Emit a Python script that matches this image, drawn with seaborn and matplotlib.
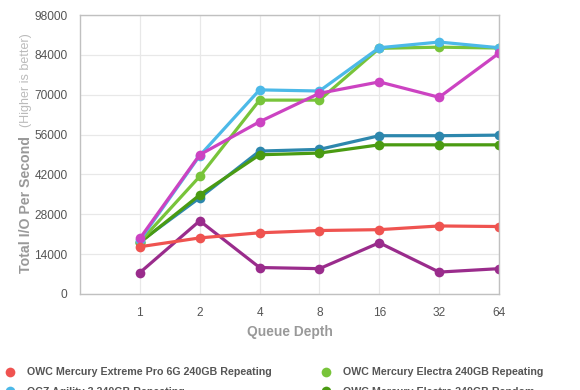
#!/usr/bin/env python3

from matplotlib import pyplot as plt
from matplotlib.lines import Line2D
import numpy as np
import pandas as pd
import seaborn as sns

queue_depths = ['1', '2', '4', '8', '16', '32', '64']

# legend order (row by row, as in the original)
names = [
    'OWC Mercury Extreme Pro 6G 240GB Repeating',
    'OWC Mercury Electra 240GB Repeating',
    'OCZ Agility 3 240GB Repeating',
    'OWC Mercury Electra 240GB Random',
    'OCZ Agility 3 240GB Random',
    'OWC Mercury Extreme Pro 6G 480GB Repeating',
    'OWC Mercury Extreme Pro 6G 480GB Random',
]
colors = ['#ef5350', '#78c43a', '#4cb9e8', '#4a9b12', '#2d87ad', '#cc43c2', '#9a2c8c']

pro_repeating = [16600, 19700, 21500, 22300, 22600, 23900, 23700]
electra_repeating = [18300, 41300, 68100, 68100, 86300, 86700, 86400]
agility_repeating = [18900, 48600, 71700, 71300, 86500, 88500, 86500]
electra_random = [18000, 34800, 48900, 49500, 52400, 52400, 52400]
agility_random = [18300, 33800, 50200, 50800, 55600, 55600, 55800]
pro480_repeating = [19500, 48900, 60500, 70500, 74500, 69100, 84600]
pro480_random = [7500, 25700, 9300, 8900, 18000, 7700, 8900]

values = [pro_repeating, electra_repeating, agility_repeating, electra_random,
          agility_random, pro480_repeating, pro480_random]

rows = []
for name, vals in zip(names, values):
    for i, v in enumerate(vals):
        rows.append({'pos': i, 'iops': v, 'drive': name})
df = pd.DataFrame(rows)

sns.set_style('white')
plt.rcParams['font.family'] = ['Liberation Sans', 'DejaVu Sans']

fig = plt.figure(figsize=(5.8, 3.9), dpi=100)
ax = fig.add_axes([80 / 580, 1 - 294 / 390, 419 / 580, 279 / 390])

# draw in reverse so the first series ends up on top
draw_order = [6, 4, 3, 1, 2, 5, 0]
for k in draw_order:
    sub = df[df['drive'] == names[k]]
    sns.lineplot(data=sub, x='pos', y='iops', color=colors[k], lw=2.3,
                 marker='o', markersize=7, markeredgewidth=0, ax=ax,
                 legend=False)

ax.set_xlim(-1, 6)
ax.set_ylim(0, 98000)
ax.set_xticks(range(len(queue_depths)))
ax.set_xticklabels(queue_depths)
ax.set_yticks(np.arange(0, 98001, 14000))
ax.grid(True, color='#e8e8e8', lw=0.9)
ax.set_axisbelow(True)
for s in ax.spines.values():
    s.set_color('#c0c0c0')
    s.set_linewidth(1)
ax.tick_params(length=0, labelsize=8.6, labelcolor='#555555')
ax.tick_params(axis='y', pad=9)
ax.tick_params(axis='x', pad=9)
ax.set_xlabel('Queue Depth', fontsize=9.9, fontweight='bold', color='#999999',
              labelpad=5)
ax.set_ylabel('')

fig.text(26 / 580, 1 - 273 / 390, 'Total I/O Per Second', rotation=90,
         ha='center', va='bottom', fontsize=10.2, fontweight='bold', color='#999999')
fig.text(26 / 580, 1 - 127 / 390, '(Higher is better)', rotation=90,
         ha='center', va='bottom', fontsize=9, color='#bbbbbb')

handles = [Line2D([], [], ls='', marker='o', markersize=7, markeredgewidth=0,
                  color=c) for c in colors]
# matplotlib fills legend columns first, reorder to get rows first
order = [0, 2, 4, 6, 1, 3, 5]
fig.legend([handles[i] for i in order], [names[i] for i in order],
           ncol=2, loc='upper left', bbox_to_anchor=(0.0, 1 - 363 / 390),
           frameon=False, handlelength=1.0, handletextpad=1.1,
           columnspacing=4.6, labelspacing=0.9, borderaxespad=0,
           prop={'size': 7.7, 'weight': 'bold'}, labelcolor='#555555')

fig.savefig('out.png', dpi=100)
